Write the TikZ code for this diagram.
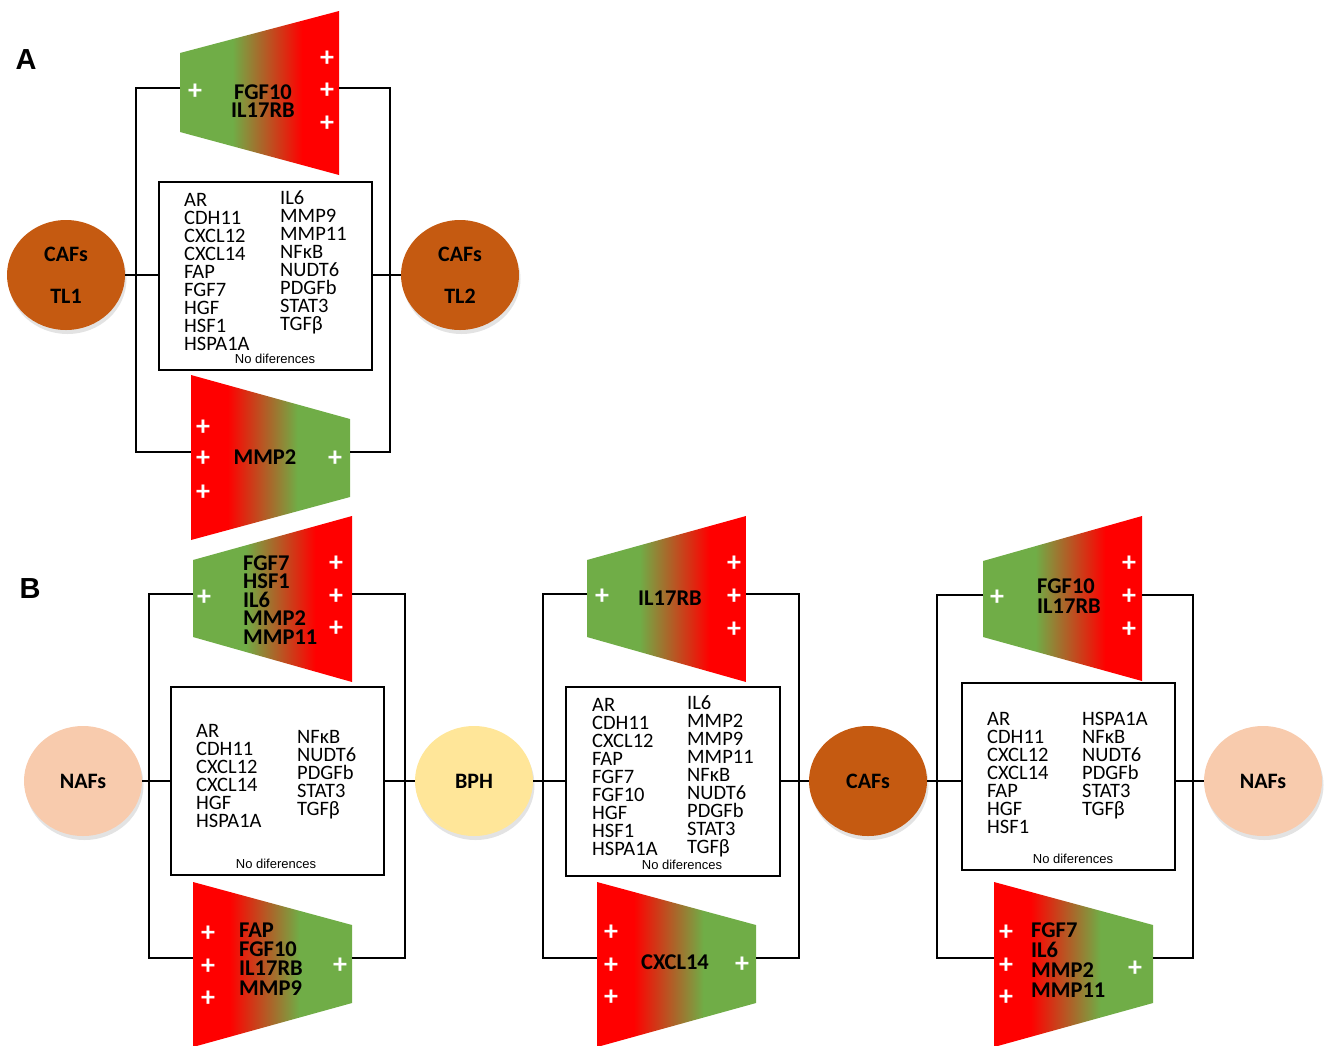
\documentclass[tikz,border=0pt]{standalone}
\usepackage{fontspec}
\setmainfont{Carlito}
\newfontfamily\arialf{Liberation Sans}
\usetikzlibrary{shapes.geometric,shadows}
\definecolor{cgreen}{RGB}{112,173,71}
\definecolor{cred}{RGB}{255,0,0}
\definecolor{cafc}{RGB}{197,90,17}
\definecolor{nafc}{RGB}{248,203,173}
\definecolor{bphc}{RGB}{255,230,153}
\pgfdeclarehorizontalshading{gtor}{100bp}{color(0bp)=(cgreen); color(41.5bp)=(cgreen); color(63.5bp)=(cred); color(100bp)=(cred)}
\pgfdeclarehorizontalshading{rtog}{100bp}{color(0bp)=(cred); color(36.5bp)=(cred); color(58.5bp)=(cgreen); color(100bp)=(cgreen)}
\tikzset{
 wire/.style={line width=2.6pt, draw=black},
 genebox/.style={draw, line width=2pt, fill=white, inner sep=0},
 cell/.style={ellipse, inner sep=0, minimum width=118, minimum height=110, font=\fontsize{22}{42}\selectfont\bfseries, align=center, drop shadow={shadow xshift=1.5pt, shadow yshift=-4pt, opacity=0.22}},
 gene/.style={inner sep=0, text height=13pt, text depth=3.5pt, font=\fontsize{20.5}{18}\selectfont},
 hit/.style={inner sep=0, text height=13.5pt, text depth=3.5pt, font=\fontsize{22.5}{18}\selectfont\bfseries},
 plus/.style={inner sep=0, text=white, font=\fontsize{28}{28}\selectfont\bfseries},
 nodiff/.style={inner sep=0, font=\arialf\fontsize{13}{13}\selectfont},
 panel/.style={inner sep=0, font=\arialf\fontsize{29}{29}\selectfont\bfseries},
}
\newcommand\genecol[4]{\foreach \g [count=\i] in {#4}{\node[gene,anchor=base west] (#1\i) at (#2,{#3+6.5+18*(\i-1)}) {\g};}}
\newcommand\hitcol[6]{\foreach \g [count=\i] in {#6}{\node[hit,anchor=#2] (#1\i) at (#3,{#4+7.1+#5*(\i-1)}) {\g};}}
\begin{document}
\begin{tikzpicture}[x=1pt,y=-1pt]
\useasboundingbox (0,0) rectangle (1324,1045);
% ---------------- Panel A ----------------
\node[panel] (labA) at (26,60) {A};
\shade[shading=gtor] (180,53) -- (339,11) -- (339,175) -- (180,132) -- cycle;
\shade[shading=rtog] (191,375) -- (350,419) -- (350,497) -- (191,540) -- cycle;
\coordinate (aTl) at (180,88); \coordinate (aTr) at (339,88);
\coordinate (aBl) at (191,452); \coordinate (aBr) at (350,452);
\coordinate (aVl) at (136,275); \coordinate (aVr) at (390,275);
\node[genebox, minimum width=213, minimum height=188] (aBox) at (265.5,276) {};
\node[cell, fill=cafc] (aC1) at (66,275) {CAFs\\TL1};
\node[cell, fill=cafc] (aC2) at (460,275) {CAFs\\TL2};
\draw[wire] (aTl) -| (aVl) |- (aBl);
\draw[wire] (aTr) -| (aVr) |- (aBr);
\draw[wire] (aC1.east) -- (aC1.east -| aBox.west);
\draw[wire] (aBox.east |- aC2.west) -- (aC2.west);
\genecol{aL}{184}{200}{AR,CDH11,CXCL12,CXCL14,FAP,FGF7,HGF,HSF1,HSPA1A}
\genecol{aR}{280}{198}{IL6,MMP9,MMP11,NFκB,NUDT6,PDGFb,STAT3,TGFβ}
\node[nodiff] (aNd) at (275,359) {No diferences};
\hitcol{aT}{base}{263}{92}{18}{FGF10,IL17RB}
\hitcol{aB}{base}{265}{457}{18}{MMP2}
\foreach \p [count=\i] in {(195,92),(327,59),(327,91),(327,124),(203,428),(203,459),(203,493),(335,459)} \node[plus] (aP\i) at \p {+};
% ---------------- Panel B ----------------
\node[panel] (labB) at (30,589) {B};
% unit 1
\shade[shading=gtor] (193,560) -- (352,516) -- (352,682) -- (193,637) -- cycle;
\shade[shading=rtog] (193,882) -- (352,925) -- (352,1003) -- (193,1047) -- cycle;
\coordinate (bTl) at (193,594); \coordinate (bTr) at (352,594);
\coordinate (bBl) at (193,958); \coordinate (bBr) at (352,958);
\coordinate (bVl) at (149,781); \coordinate (bVr) at (405,781);
\node[genebox, minimum width=213, minimum height=188] (bBox) at (277.5,781) {};
% unit 2
\shade[shading=gtor] (587,560) -- (746,516) -- (746,682) -- (587,637) -- cycle;
\shade[shading=rtog] (597,882) -- (756,925) -- (756,1003) -- (597,1047) -- cycle;
\coordinate (cTl) at (587,594); \coordinate (cTr) at (746,594);
\coordinate (cBl) at (597,958); \coordinate (cBr) at (756,958);
\coordinate (cVl) at (543,781); \coordinate (cVr) at (799,781);
\node[genebox, minimum width=214, minimum height=189] (cBox) at (673,781.5) {};
% unit 3
\shade[shading=gtor] (983,561) -- (1142,516) -- (1142,681) -- (983,637) -- cycle;
\shade[shading=rtog] (994,882) -- (1153,925) -- (1153,1003) -- (994,1047) -- cycle;
\coordinate (dTl) at (983,595); \coordinate (dTr) at (1142,595);
\coordinate (dBl) at (994,958); \coordinate (dBr) at (1153,958);
\coordinate (dVl) at (937,781); \coordinate (dVr) at (1193,781);
\node[genebox, minimum width=213, minimum height=187] (dBox) at (1068.5,776.5) {};
% cells
\node[cell, fill=nafc] (nA) at (83,781) {NAFs};
\node[cell, fill=bphc] (bph) at (474,781) {BPH};
\node[cell, fill=cafc] (caf) at (868,781) {CAFs};
\node[cell, fill=nafc] (nB) at (1263,781) {NAFs};
% connectors
\draw[wire] (bTl) -| (bVl) |- (bBl);
\draw[wire] (bTr) -| (bVr) |- (bBr);
\draw[wire] (cTl) -| (cVl) |- (cBl);
\draw[wire] (cTr) -| (cVr) |- (cBr);
\draw[wire] (dTl) -| (dVl) |- (dBl);
\draw[wire] (dTr) -| (dVr) |- (dBr);
\draw[wire] (nA.east) -- (nA.east -| bBox.west);
\draw[wire] (bBox.east |- bph.west) -- (bph.west);
\draw[wire] (bph.east) -- (bph.east -| cBox.west);
\draw[wire] (cBox.east |- caf.west) -- (caf.west);
\draw[wire] (caf.east) -- (caf.east -| dBox.west);
\draw[wire] (dBox.east |- nB.west) -- (nB.west);
% texts unit 1
\genecol{bL}{196}{731}{AR,CDH11,CXCL12,CXCL14,HGF,HSPA1A}
\genecol{bR}{297}{737}{NFκB,NUDT6,PDGFb,STAT3,TGFβ}
\node[nodiff] (bNd) at (276,864) {No diferences};
\hitcol{bT}{base west}{243}{563}{18.5}{FGF7,HSF1,IL6,MMP2,MMP11}
\hitcol{bB}{base west}{239}{930}{19.3}{FAP,FGF10,IL17RB,MMP9}
\foreach \p [count=\i] in {(204,598),(336,564),(336,597),(336,629),(208,934),(208,967),(208,999),(340,966)} \node[plus] (bP\i) at \p {+};
% texts unit 2
\genecol{cL}{592}{705}{AR,CDH11,CXCL12,FAP,FGF7,FGF10,HGF,HSF1,HSPA1A}
\genecol{cR}{687}{703}{IL6,MMP2,MMP9,MMP11,NFκB,NUDT6,PDGFb,STAT3,TGFβ}
\node[nodiff] (cNd) at (682,865) {No diferences};
\hitcol{cT}{base}{670}{598}{18}{IL17RB}
\hitcol{cB}{base}{675}{962}{18}{CXCL14}
\foreach \p [count=\i] in {(602,597),(734,564),(734,597),(734,630),(611,933),(611,966),(611,998),(742,965)} \node[plus] (cP\i) at \p {+};
% texts unit 3
\genecol{dL}{987}{719}{AR,CDH11,CXCL12,CXCL14,FAP,HGF,HSF1}
\genecol{dR}{1082}{719}{HSPA1A,NFκB,NUDT6,PDGFb,STAT3,TGFβ}
\node[nodiff] (dNd) at (1073,859) {No diferences};
\hitcol{dT}{base west}{1037}{586}{20}{FGF10,IL17RB}
\hitcol{dB}{base west}{1031}{930}{20}{FGF7,IL6,MMP2,MMP11}
\foreach \p [count=\i] in {(997,598),(1129,564),(1129,597),(1129,630),(1006,933),(1006,966),(1006,998),(1135,969)} \node[plus] (dP\i) at \p {+};
\end{tikzpicture}
\end{document}
